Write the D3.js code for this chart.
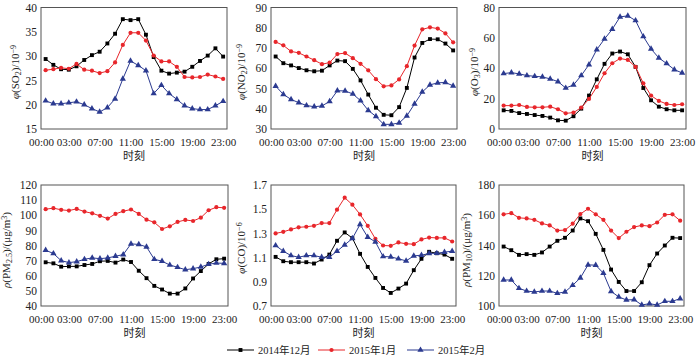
<!DOCTYPE html>
<html><head><meta charset="utf-8">
<script src="https://cdn.jsdelivr.net/npm/d3@7"></script>
<style>
body{margin:0;background:#fff;}
svg{display:block;}
text{font-family:"Liberation Serif","Times New Roman","Noto Sans CJK SC",serif;fill:#222;}
</style></head>
<body><svg id="c" width="700" height="358"></svg>
<script>
const hours = [0,1,2,3,4,5,6,7,8,9,10,11,12,13,14,15,16,17,18,19,20,21,22,23];
const tickHours = [-0.6,3,7,11,15,19,23];
const tickLabels = ["00:00","03:00","07:00","11:00","15:00","19:00","23:00"];
const seriesNames = ["2014年12月","2015年1月","2015年2月"];
const seriesColors = ["#000000","#e8262b","#2b3a90"];

const so2_dec = [29.4,28.2,27.3,27.2,27.9,29.2,30.2,30.9,32.6,34.6,37.6,37.4,37.6,34.4,29.8,27.0,26.4,26.6,26.8,27.8,29.0,30.1,31.6,29.9];
const so2_jan = [27.1,27.3,27.6,27.4,28.4,27.2,27.0,26.5,26.9,28.7,32.3,34.8,34.8,33.2,30.1,28.9,28.9,27.8,25.7,25.6,25.7,26.2,25.8,25.3];
const so2_feb = [20.8,20.2,20.2,20.4,20.6,20.0,19.2,18.5,19.4,21.2,25.3,29.0,28.1,27.0,22.3,24.0,22.3,21.1,19.8,19.2,19.0,19.0,19.8,20.7];

const no2_dec = [65.8,62.5,61.4,60.1,59.0,58.5,58.8,61.4,63.8,63.5,59.7,54.0,47.0,40.5,37.0,36.8,40.8,50.3,65.3,72.5,74.4,74.3,72.2,68.8];
const no2_jan = [73.0,71.3,68.3,67.6,65.8,64.0,62.0,62.8,67.0,67.5,65.0,62.2,59.0,54.6,51.1,51.5,54.5,61.0,71.2,79.2,80.2,79.6,77.2,72.8];
const no2_feb = [51.2,47.1,44.6,43.0,41.6,41.0,41.4,43.6,48.9,48.8,47.3,44.0,39.2,36.2,32.3,32.3,33.0,36.5,42.4,48.3,51.8,52.8,53.0,51.3];

const o3_dec = [12.3,11.9,10.5,9.9,9.2,8.6,7.5,5.7,5.5,8.4,13.4,22.0,32.7,42.9,49.7,51.0,49.2,40.9,27.0,18.9,14.7,13.0,12.3,12.3];
const o3_jan = [15.4,15.4,15.8,14.5,14.3,14.3,14.7,13.0,10.3,10.8,14.1,19.8,27.7,36.7,43.3,46.4,45.5,40.9,30.1,22.0,18.5,16.5,15.8,16.3];
const o3_feb = [36.5,37.1,36.3,35.2,34.7,34.3,33.0,31.2,27.0,29.0,35.2,42.4,52.3,59.3,65.7,73.8,74.5,71.4,60.9,52.7,46.8,43.1,39.1,36.9];

const pm25_dec = [68.9,68.2,66.0,66.2,66.2,67.1,67.8,69.6,69.8,68.7,70.7,69.1,63.3,58.4,53.3,50.9,48.2,48.2,51.6,58.2,63.1,67.8,70.9,71.3];
const pm25_jan = [104.0,104.7,103.6,103.1,104.2,102.4,101.3,99.6,97.8,100.9,102.7,103.8,100.9,97.1,95.3,90.9,92.7,95.6,96.9,96.2,98.4,103.3,105.3,104.9];
const pm25_feb = [76.9,74.7,70.0,68.7,69.3,70.9,71.8,71.3,71.8,72.9,74.0,81.1,80.7,79.1,70.9,69.6,67.1,65.6,64.0,64.7,65.8,67.6,68.4,68.2];

const co_dec = [1.106,1.07,1.062,1.062,1.062,1.051,1.084,1.125,1.239,1.308,1.261,1.131,1.023,0.932,0.849,0.808,0.844,0.885,0.996,1.09,1.148,1.136,1.125,1.09];
const co_jan = [1.30,1.313,1.333,1.35,1.355,1.363,1.385,1.385,1.496,1.595,1.537,1.457,1.363,1.255,1.20,1.197,1.225,1.214,1.211,1.25,1.266,1.263,1.263,1.233];
const co_feb = [1.20,1.153,1.117,1.103,1.117,1.117,1.103,1.103,1.153,1.205,1.258,1.374,1.269,1.23,1.109,1.106,1.09,1.073,1.114,1.12,1.134,1.136,1.145,1.153];

const pm10_dec = [139.3,136.9,133.8,134.3,133.8,135.4,139.3,143.1,145.1,149.9,157.9,156.1,147.7,137.1,124.1,115.9,109.9,109.9,115.7,127.0,134.7,140.0,145.1,144.9];
const pm10_jan = [160.6,161.4,158.3,157.9,157.0,154.6,153.3,149.9,150.2,154.4,160.8,164.3,160.6,157.0,149.9,144.9,149.1,152.2,153.3,152.8,155.2,160.3,160.6,156.4];
const pm10_feb = [117.2,117.2,111.7,109.9,109.3,109.9,109.9,108.4,109.3,113.7,118.6,127.2,127.0,121.7,109.7,106.0,104.0,104.2,100.7,101.5,100.7,103.1,103.1,104.9];

const so2_ticks = [15,20,25,30,35,40];
const no2_ticks = [30,40,50,60,70,80,90];
const o3_ticks = [0,20,40,60,80];
const pm25_ticks = [40,50,60,70,80,90,100,110,120];
const co_ticks = [0.7,0.9,1.1,1.3,1.5,1.7];
const pm10_ticks = [100,120,140,160,180];

const panels = [
  {series:[so2_dec,so2_jan,so2_feb], ticks:so2_ticks, fmt:d3.format("d"),
   label:[["φ","i"],["(SO","n"],["2","sub"],[")/10","n"],["−9","sup"]], x0:41,x1:227,y0:7.5,y1:129, lx:19, ly:72},
  {series:[no2_dec,no2_jan,no2_feb], ticks:no2_ticks, fmt:d3.format("d"),
   label:[["φ","i"],["(NO","n"],["2","sub"],[")/10","n"],["−9","sup"]], x0:271,x1:457,y0:7.5,y1:129, lx:245, ly:72},
  {series:[o3_dec,o3_jan,o3_feb], ticks:o3_ticks, fmt:d3.format("d"),
   label:[["φ","i"],["(O","n"],["3","sub"],[")/10","n"],["−9","sup"]], x0:499,x1:686,y0:7.5,y1:129, lx:478, ly:72},
  {series:[pm25_dec,pm25_jan,pm25_feb], ticks:pm25_ticks, fmt:d3.format("d"),
   label:[["ρ","i"],["(PM","n"],["2.5","sub"],[")/(μg/m","n"],["3","sup"],[")","n"]], x0:41,x1:228,y0:185,y1:306, lx:10, ly:250},
  {series:[co_dec,co_jan,co_feb], ticks:co_ticks, fmt:d3.format(".1f"),
   label:[["φ","i"],["(CO)/10","n"],["−6","sup"]], x0:271,x1:456,y0:185,y1:306, lx:245, ly:248},
  {series:[pm10_dec,pm10_jan,pm10_feb], ticks:pm10_ticks, fmt:d3.format("d"),
   label:[["ρ","i"],["(PM","n"],["10","sub"],[")/(μg/m","n"],["3","sup"],[")","n"]], x0:499,x1:684,y0:185,y1:306, lx:470, ly:250}
];

const svg = d3.select("#c");
const markerShapes = [d3.symbolSquare, d3.symbolCircle, d3.symbolTriangle];
const markerSizes = [15, 14, 17];

function drawMarker(g, k, color){
  g.append("path").attr("d", d3.symbol().type(markerShapes[k]).size(markerSizes[k])()).attr("fill", color);
}

panels.forEach(p=>{
  const x = d3.scaleLinear().domain([-0.6,23.5]).range([p.x0,p.x1]);
  const ext = d3.extent(p.ticks);
  const y = d3.scaleLinear().domain(ext).range([p.y1,p.y0]);
  const g = svg.append("g");

  const ya = d3.axisLeft(y).tickValues(p.ticks).tickFormat(p.fmt).tickSize(0).tickPadding(4);
  const yg = g.append("g").attr("transform",`translate(${p.x0},0)`).call(ya);
  yg.select(".domain").remove();
  yg.selectAll("text").style("font-size","11.5px").style("font-family","Liberation Serif").attr("fill","#222");

  const xa = d3.axisBottom(x).tickValues(tickHours).tickFormat((d,i)=>tickLabels[i]).tickSize(0).tickPadding(9);
  const xg = g.append("g").attr("transform",`translate(0,${p.y1})`).call(xa);
  xg.select(".domain").remove();
  xg.selectAll("text").style("font-size","11px").style("font-family","Liberation Serif").attr("fill","#222");

  g.append("text").attr("x",(p.x0+p.x1)/2).attr("y",p.y1+31).attr("text-anchor","middle")
    .style("font-size","11px").style("font-family","'Noto Sans CJK SC'").text("时刻");

  g.append("rect").attr("x",p.x0).attr("y",p.y0).attr("width",p.x1-p.x0).attr("height",p.y1-p.y0)
    .attr("fill","none").attr("stroke","#555").attr("stroke-width",1);

  const t = g.append("text").attr("transform",`translate(${p.lx},${p.ly}) rotate(-90)`).attr("text-anchor","middle")
    .style("font-size","11px");
  p.label.forEach(([s,st])=>{
    const ts = t.append("tspan").text(s);
    if(st==="i") ts.style("font-style","italic");
    if(st==="sub") ts.attr("baseline-shift","-25%").style("font-size","8px");
    if(st==="sup") ts.attr("baseline-shift","40%").style("font-size","8px");
  });

  const line = d3.line().x((d,i)=>x(hours[i])).y(d=>y(d));
  p.series.forEach((s,k)=>{
    g.append("path").datum(s).attr("d",line).attr("fill","none").attr("stroke",seriesColors[k]).attr("stroke-width",1);
    s.forEach((v,i)=>{
      const mg = g.append("g").attr("transform",`translate(${x(hours[i])},${y(v)})`);
      drawMarker(mg,k,seriesColors[k]);
    });
  });
});

const legendX = [227, 318, 407];
const legend = svg.append("g");
seriesNames.forEach((n,k)=>{
  const lx = legendX[k];
  legend.append("line").attr("x1",lx).attr("x2",lx+27).attr("y1",350).attr("y2",350)
    .attr("stroke",seriesColors[k]).attr("stroke-width",1);
  const mg = legend.append("g").attr("transform",`translate(${lx+13.5},350)`);
  drawMarker(mg,k,seriesColors[k]);
  legend.append("text").attr("x",lx+31).attr("y",354).style("font-size","10.5px").text(n);
});
</script></body></html>
